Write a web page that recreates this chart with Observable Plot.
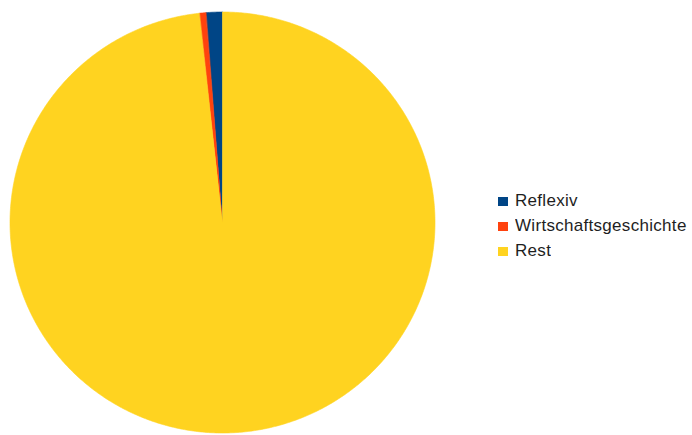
<!DOCTYPE html>
<html>
<head>
<meta charset="utf-8">
<script src="https://cdn.jsdelivr.net/npm/d3@7"></script>
<script src="https://cdn.jsdelivr.net/npm/@observablehq/plot@0.6"></script>
<style>
  html, body { margin: 0; padding: 0; background: #fff; }
  #wrap { position: relative; width: 692px; height: 435px; overflow: hidden; }
  #chart { position: absolute; left: 0; top: 0; }
  #legend { position: absolute; left: 498px; top: 189px; }
  #legend svg { margin-right: 7px !important; }
  #legend, #legend * { font-family: "Liberation Sans", Arial, sans-serif !important; line-height: 24px !important; }
</style>
</head>
<body>
<div id="wrap"><div id="chart"></div><div id="legend"></div></div>
<script>
const categories = ["Reflexiv", "Wirtschaftsgeschichte", "Rest"];
const values = [1.25, 0.5, 98.25];
const colors = ["#004586", "#ff420e", "#ffd320"];

const table = categories.map((c, i) => ({category: c, value: values[i]}));
const arcs = d3.pie().sort(null).value(d => d.value).startAngle(0).endAngle(-2 * Math.PI)(table);

// outline points of each wedge (geometry only: the arc of each slice)
const pts = [];
for (const a of arcs) {
  const span = a.endAngle - a.startAngle;
  const n = Math.max(2, Math.ceil(Math.abs(span) / (Math.PI / 360)));
  for (let k = 0; k <= n; k++) {
    const t = a.startAngle + span * k / n;
    pts.push({category: a.data.category, x: Math.sin(t), y: Math.cos(t)});
  }
}

const plot = Plot.plot({
  width: 692,
  height: 435,
  margin: 0,
  x: {domain: [-1, 1], range: [10, 435], axis: null},
  y: {domain: [-1, 1], range: [433, 12], axis: null},
  color: {domain: categories, range: colors},
  style: {background: "#fff"},
  marks: [
    Plot.area(pts, {
      x1: () => 0, y1: () => 0,
      x2: "x", y2: "y",
      z: "category",
      fill: "category",
      stroke: "category",
      strokeWidth: 0.6,
      curve: "linear"
    })
  ]
});
document.getElementById("chart").append(plot);

const legend = plot.legend("color", {
  columns: 1,
  swatchWidth: 10,
  swatchHeight: 9,
  style: {fontSize: "17px", color: "#1e1e1e", letterSpacing: "0.3px", margin: 0}
});
document.getElementById("legend").append(legend);
</script>
</body>
</html>
